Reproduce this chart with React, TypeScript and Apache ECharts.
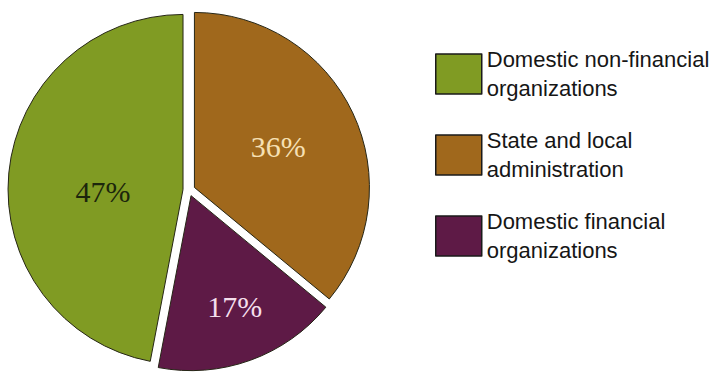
import React, { useEffect, useRef } from "react";
import * as echarts from "echarts";

const categories = [
  "State and local\nadministration",
  "Domestic financial\norganizations",
  "Domestic non-financial\norganizations",
];
const values = [36, 17, 47];
const colors = ["#a0681c", "#5e1a46", "#809b23"];
const labelColors = ["#f6e0b4", "#f4dfec", "#1c260c"];
const legendOrder = [
  "Domestic non-financial\norganizations",
  "State and local\nadministration",
  "Domestic financial\norganizations",
];
// label nudges (dx, dy) per slice, in drawing order
const labelNudges = [
  [2, -2],
  [13, 26],
  [10, 11],
];

export default function App() {
  const ref = useRef<HTMLDivElement>(null);
  useEffect(() => {
    if (!ref.current) return;
    const chart = echarts.init(ref.current, undefined, { renderer: "svg" });
    chart.setOption({
      animation: false,
      backgroundColor: "#ffffff",
      legend: {
        orient: "vertical",
        left: 430,
        top: 31,
        itemWidth: 46,
        itemHeight: 40,
        itemGap: 5,
        icon: "rect",
        selectedMode: false,
        data: legendOrder,
        itemStyle: { borderColor: "#1a1a1a", borderWidth: 1.5 },
        textStyle: {
          fontFamily: "Liberation Sans, Arial, sans-serif",
          fontSize: 22,
          lineHeight: 29,
          color: "#161616",
          padding: [18, 0, 0, 0],
        },
      },
      series: [
        {
          type: "pie",
          center: [189, 190],
          radius: [0, 175],
          startAngle: 90,
          clockwise: true,
          silent: true,
          selectedMode: "multiple",
          selectedOffset: 6,
          avoidLabelOverlap: false,
          emphasis: { disabled: true },
          labelLine: { show: false },
          itemStyle: { borderColor: "#262616", borderWidth: 1 },
          select: { itemStyle: { borderColor: "#262616", borderWidth: 1 } },
          label: {
            show: true,
            position: "inside",
            formatter: "{d}%",
            fontFamily: "Liberation Serif, Times New Roman, serif",
            fontSize: 30,
          },
          labelLayout: (p: any) => {
            const n = labelNudges[p.dataIndex] || [0, 0];
            return { dx: n[0], dy: n[1] };
          },
          data: categories.map((name, i) => ({
            name,
            value: values[i],
            selected: true,
            itemStyle: { color: colors[i] },
            select: { itemStyle: { color: colors[i] }, label: { color: labelColors[i] } },
            label: { color: labelColors[i] },
          })),
        },
      ],
    });
    return () => chart.dispose();
  }, []);
  return (
    <div
      ref={ref}
      style={{ position: "fixed", left: 0, top: 0, width: 711, height: 376 }}
    />
  );
}
